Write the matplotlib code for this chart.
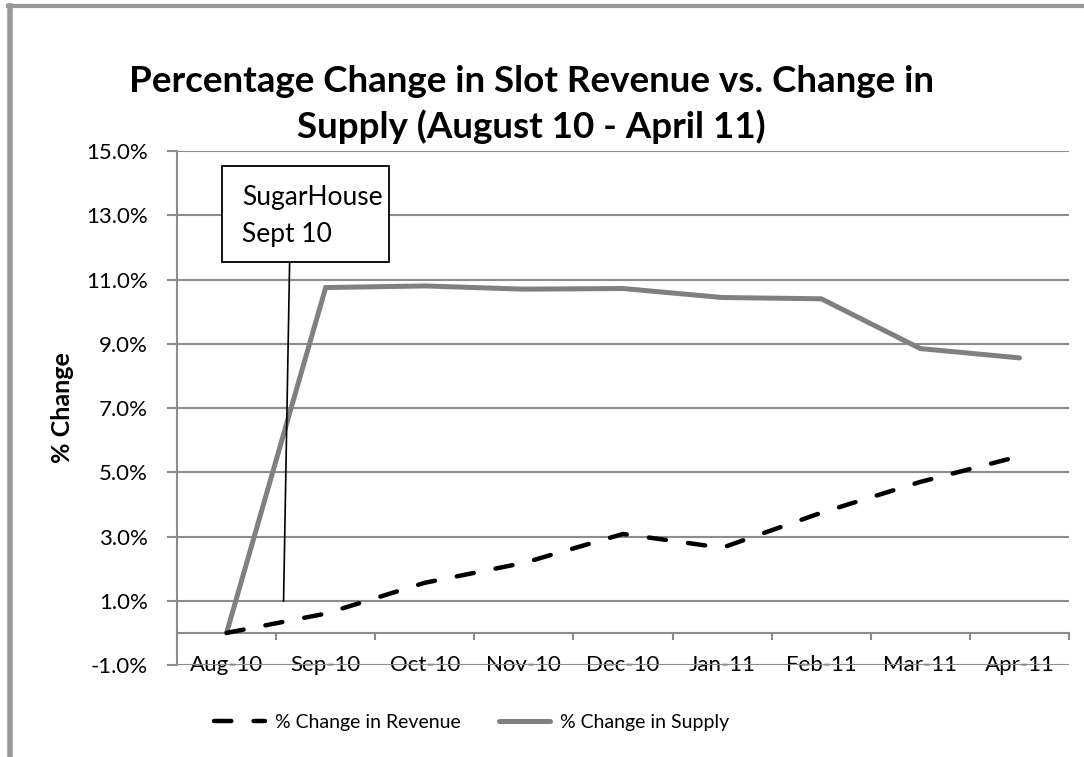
import matplotlib
matplotlib.use("Agg")
import matplotlib.pyplot as plt
from matplotlib.lines import Line2D
from matplotlib.patches import Rectangle
from matplotlib.ticker import FuncFormatter, MultipleLocator, FixedLocator

plt.rcParams['font.family'] = ['Lato', 'DejaVu Sans']

# data
months = ['Aug-10', 'Sep-10', 'Oct-10', 'Nov-10', 'Dec-10',
          'Jan-11', 'Feb-11', 'Mar-11', 'Apr-11']
revenue_pct = [0.0, 0.60, 1.56, 2.18, 3.08, 2.65, 3.74, 4.70, 5.50]
supply_pct = [0.0, 10.75, 10.80, 10.70, 10.72, 10.44, 10.40, 8.85, 8.56]
y_ticks = [-1, 1, 3, 5, 7, 9, 11, 13, 15]

grid_col = '#8c8c8c'
supply_col = '#808080'

fig = plt.figure(figsize=(10.84, 7.57), dpi=100)
ax = fig.add_axes([0.1633, 0.1215, 0.8229, 0.679])

x = list(range(len(months)))
ax.plot(x, revenue_pct, color='black', lw=3.2, linestyle=(0, (3.9, 5.0)),
        dash_capstyle='round', solid_capstyle='round', zorder=4)
ax.plot(x, supply_pct, color=supply_col, lw=3.6, solid_capstyle='round',
        solid_joinstyle='miter', zorder=3)

ax.set_xlim(-0.5, len(months) - 0.5)
ax.set_ylim(y_ticks[0], y_ticks[-1])

# y axis
ax.yaxis.set_major_locator(FixedLocator(y_ticks))
ax.yaxis.set_major_formatter(FuncFormatter(lambda v, p: f'{v:.1f}%'))
ax.grid(axis='y', color=grid_col, lw=1.5, zorder=1)
ax.tick_params(axis='y', direction='out', length=7, width=1.5, color=grid_col,
               labelsize=16, pad=14)

# x axis sits at zero, ticks between categories
ax.spines['bottom'].set_position(('data', 0))
ax.spines['bottom'].set_color(grid_col)
ax.spines['bottom'].set_linewidth(1.5)
ax.spines['left'].set_color(grid_col)
ax.spines['left'].set_linewidth(1.5)
ax.spines['top'].set_visible(False)
ax.spines['right'].set_visible(False)
ax.set_xticks(x)
ax.set_xticklabels(months)
ax.xaxis.set_minor_locator(MultipleLocator(1, offset=0.5))
ax.tick_params(axis='x', which='major', length=0, labelsize=16, pad=16)
ax.tick_params(axis='x', which='minor', direction='out', length=5, width=1.5,
               color=grid_col)
ax.set_axisbelow(True)

ax.set_ylabel('% Change', fontsize=18, fontweight='bold', labelpad=9)

fig.text(0.49, 0.862, 'Percentage Change in Slot Revenue vs. Change in\nSupply (August 10 - April 11)',
         ha='center', va='center', fontsize=26.5, fontweight='bold', linespacing=1.38)

# callout box with leader line
ax.add_patch(Rectangle((-0.05, 11.53), 1.685, 2.99, fc='white', ec='black',
                       lw=1.3, zorder=6, clip_on=False))
ax.text(0.16, 13.95, 'SugarHouse\nSept 10', fontsize=19, ha='left', va='top',
        linespacing=1.6, zorder=7)
ax.plot([0.636, 0.575], [11.53, 1.0], color='black', lw=1.2, zorder=5)

handles = [Line2D([], [], color='black', lw=3.2, linestyle=(0, (3.9, 5.0)),
                  dash_capstyle='round'),
           Line2D([], [], color=supply_col, lw=3.6, solid_capstyle='round')]
fig.legend(handles, ['% Change in Revenue', '% Change in Supply'],
           loc='center', bbox_to_anchor=(0.435, 0.046), ncol=2, frameon=False,
           fontsize=14, handlelength=2.6, handletextpad=0.5, columnspacing=2.0)

# frame edges visible in the reference crop
fig.add_artist(Line2D([0.009, 0.009], [0, 0.992], transform=fig.transFigure,
                      color='#999999', lw=4))
fig.add_artist(Line2D([0.007, 1.0], [0.992, 0.992], transform=fig.transFigure,
                      color='#999999', lw=3))

fig.savefig('out.png', dpi=100)
